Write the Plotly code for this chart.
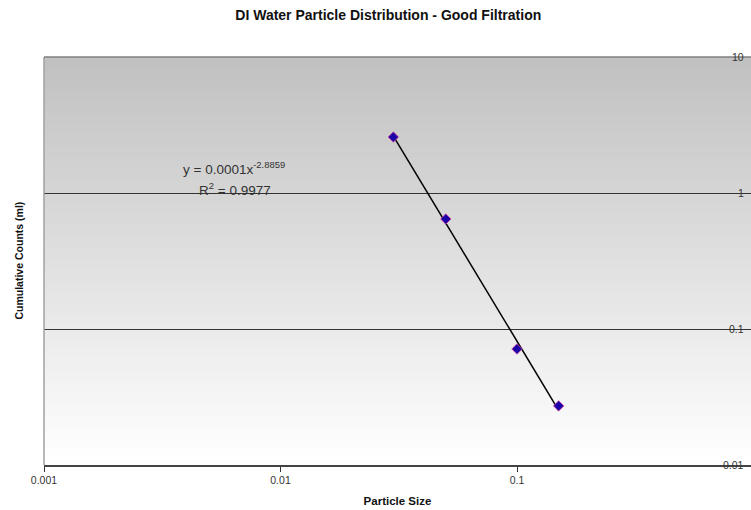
import numpy as np
import plotly.graph_objects as go

particle_size = [0.03, 0.05, 0.1, 0.15]
cumulative_counts = [2.58, 0.644, 0.0713, 0.0272]
x_tick_vals = [0.001, 0.01, 0.1]
x_tick_text = ["0.001", "0.01", "0.1"]
y_tick_vals = [0.01, 0.1, 1, 10]
y_tick_text = ["0.01", "0.1", "1", "10"]
equation_text = "y = 0.0001x<sup>-2.8859</sup>"
r2_text = "R<sup>2</sup> = 0.9977"

# power-law trendline fitted in log-log space
lx = np.log10(particle_size)
ly = np.log10(cumulative_counts)
b, a = np.polyfit(lx, ly, 1)
trend_x = np.logspace(lx.min(), lx.max(), 50)
trend_y = 10 ** (a + b * np.log10(trend_x))

FONT = "Liberation Sans, Arial, sans-serif"

fig = go.Figure()
fig.add_trace(go.Scatter(x=trend_x, y=trend_y, mode="lines",
                         line=dict(color="black", width=1.5), showlegend=False,
                         hoverinfo="skip"))
fig.add_trace(go.Scatter(x=particle_size, y=cumulative_counts, mode="markers",
                         marker=dict(symbol="diamond", size=8, color="#1c00a8",
                                     line=dict(color="#d040a0", width=0.8)),
                         showlegend=False))

# vertical gray gradient background
shapes = []
n = 100
for i in range(n):
    t = i / (n - 1)
    v = int(round(192 + (255 - 192) * t))
    c = f"rgb({v},{v},{v})"
    shapes.append(dict(type="rect", xref="paper", yref="paper",
                       x0=0, x1=1, y0=1 - (i + 1) / n, y1=min(1, 1 - i / n + 0.006),
                       fillcolor=c, line=dict(width=0), layer="below"))
# frame lines
shapes.append(dict(type="line", xref="paper", yref="paper", x0=0, x1=0, y0=0, y1=1,
                   line=dict(color="#a0a0a0", width=1.5), layer="above"))
shapes.append(dict(type="line", xref="paper", yref="paper", x0=0, x1=1, y0=1, y1=1,
                   line=dict(color="#808080", width=1.5), layer="above"))
fig.update_layout(shapes=shapes)

annotations = [
    dict(text="<b>Cumulative Counts (ml)</b>", xref="paper", yref="paper",
         x=-0.036, y=0.5, textangle=-90, showarrow=False,
         xanchor="center", yanchor="middle",
         font=dict(size=10.5, color="#111111")),
    dict(text=equation_text, xref="paper", yref="paper",
         x=(234 - 44) / 707, y=(465 - 168) / 408, showarrow=False,
         xanchor="center", yanchor="middle",
         font=dict(size=13.5, color="#333333")),
    dict(text=r2_text, xref="paper", yref="paper",
         x=(235 - 44) / 707, y=(465 - 189) / 408, showarrow=False,
         xanchor="center", yanchor="middle",
         font=dict(size=13.5, color="#333333")),
]
for v, t in zip(y_tick_vals, y_tick_text):
    annotations.append(dict(text=t, xref="paper", yref="y", x=0.993, y=np.log10(v),
                            showarrow=False, xanchor="right", yanchor="middle",
                            font=dict(size=10.5, color="#333333")))

fig.update_layout(
    width=751, height=510,
    margin=dict(l=44, r=0, t=57, b=45),
    paper_bgcolor="white", plot_bgcolor="white",
    font=dict(family=FONT, size=10, color="#333333"),
    title=dict(text="<b>DI Water Particle Distribution - Good Filtration</b>",
               x=0.517, xanchor="center", y=0.97, yanchor="middle",
               font=dict(family=FONT, size=14, color="#111111")),
    xaxis=dict(type="log", range=[-3, -3 + 707 / 236.5],
               tickvals=x_tick_vals, ticktext=x_tick_text,
               ticks="outside", ticklen=5, tickcolor="#333333",
               showgrid=False, zeroline=False,
               showline=True, linecolor="#444444", linewidth=1.5,
               tickfont=dict(size=10.5, color="#333333"),
               title=dict(text="<b>Particle Size</b>", standoff=12,
                          font=dict(size=11.5, color="#111111"))),
    yaxis=dict(type="log", range=[-2, 1], side="right",
               tickvals=y_tick_vals, showticklabels=False, ticks="",
               showgrid=True, gridcolor="#333333", gridwidth=1,
               zeroline=False, showline=False),
    annotations=annotations,
)

fig.write_html("out.html")
